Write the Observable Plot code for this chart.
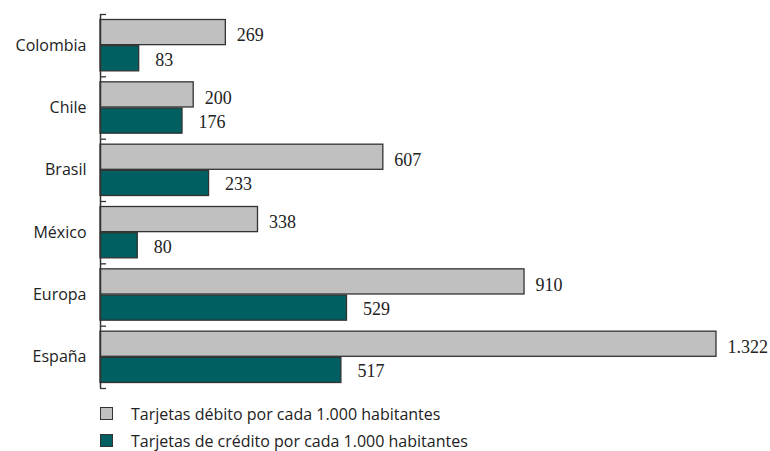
<!DOCTYPE html>
<html><head><meta charset="utf-8">
<script src="https://cdn.jsdelivr.net/npm/d3@7"></script>
<script src="https://cdn.jsdelivr.net/npm/@observablehq/plot@0.6"></script>
<style>
body{margin:0;background:#fff;}
#legend{font-family:"Open Sans";font-size:16px;color:#222;margin-left:100px;padding-top:5px;}
.row{display:flex;align-items:center;height:27px;}
.sw{width:11px;height:11px;border:1px solid #333;margin-right:18px;flex:none;}
#chart svg g[aria-label="fy-axis tick label"], #chart svg g[aria-label="fy-axis tick label"] text{font-size:16px !important;font-family:"Open Sans";}
</style></head><body><div id="chart"></div><div id="legend"></div>
<script>
const countries = ["Colombia","Chile","Brasil","México","Europa","España"];
const debit = [269,200,607,338,910,1322];
const credit = [83,176,233,80,529,517];
const seriesNames = ["Tarjetas débito por cada 1.000 habitantes","Tarjetas de crédito por cada 1.000 habitantes"];
const colors = ["#c0c0c0","#005f60"];

const rows = countries.flatMap((c,i)=>[
  {country:c, series:seriesNames[0], value:debit[i]},
  {country:c, series:seriesNames[1], value:credit[i]}
]);
const fmt = v => d3.format(",")(v).replace(/,/g,".");

const W=770,H=395,mT=14,mB=7;
const pI=0.04,pO=0.21;
const facetH=(H-mT-mB)/countries.length;
const step=facetH/(2-pI+2*pO);
const off=pO*step+(1-pI)*step/2;

const chart = Plot.plot({
  width:W,height:H,marginLeft:100,marginRight:54,marginTop:mT,marginBottom:mB,
  style:{fontFamily:"Open Sans",fontSize:"16px",color:"#222",background:"#fff"},
  x:{domain:[0,1322],axis:null},
  y:{domain:seriesNames,axis:null,paddingInner:pI,paddingOuter:pO,round:false},
  fy:{domain:countries,padding:0,label:null,axis:"left",tickSize:0,tickPadding:14,round:false},
  color:{domain:seriesNames,range:colors},
  marks:[
    Plot.barX(rows,{x:"value",y:"series",fy:"country",fill:"series",stroke:"#333",strokeWidth:1.3}),
    Plot.text(rows.filter(d=>d.series===seriesNames[0]),{x:"value",y:"series",fy:"country",text:d=>fmt(d.value),textAnchor:"start",dx:11,dy:3,fontFamily:"Liberation Serif",fontSize:18,fill:"#222"}),
    Plot.text(rows.filter(d=>d.series===seriesNames[1]),{x:"value",y:"series",fy:"country",text:d=>fmt(d.value),textAnchor:"start",dx:16,dy:1,fontFamily:"Liberation Serif",fontSize:18,fill:"#222"}),
    Plot.ruleY(countries.map(c=>({country:c})),{fy:"country",y:()=>seriesNames[0],x1:0,x2:13,dy:-off,stroke:"#333",strokeWidth:1.3}),
    Plot.ruleY([{country:countries[countries.length-1]}],{fy:"country",y:()=>seriesNames[1],x1:0,x2:13,dy:off,stroke:"#333",strokeWidth:1.3}),
    Plot.ruleX([0],{stroke:"#333",strokeWidth:1.5})
  ]
});
document.getElementById("chart").appendChild(chart);

const lg=document.getElementById("legend");
seriesNames.forEach((s,i)=>{
  const r=document.createElement("div");r.className="row";
  const sw=document.createElement("div");sw.className="sw";sw.style.background=colors[i];
  const t=document.createElement("span");t.textContent=s;
  r.appendChild(sw);r.appendChild(t);lg.appendChild(r);
});
</script></body></html>
